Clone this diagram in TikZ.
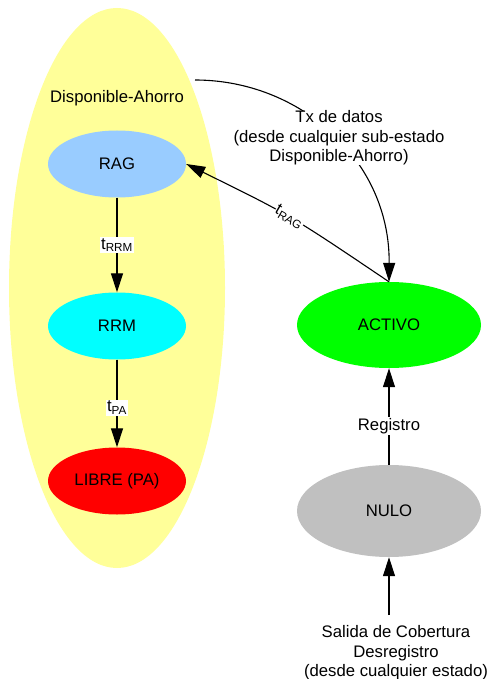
\documentclass[tikz,border=0pt]{standalone}
\usepackage{fontspec}
\setmainfont{Liberation Sans}
\usetikzlibrary{shapes.geometric,arrows.meta}
\definecolor{dispo}{HTML}{FFFF99}
\definecolor{ragblue}{HTML}{99CCFF}
\definecolor{rrmcyan}{HTML}{00FFFF}
\definecolor{librered}{HTML}{FF0000}
\definecolor{activogreen}{HTML}{00FF00}
\definecolor{nulogray}{HTML}{C0C0C0}
\begin{document}
\begin{tikzpicture}[x=1pt,y=-1pt,
  font=\fontsize{16.7}{19.5}\selectfont,
  state/.style={ellipse, inner sep=0pt},
  small/.style={minimum width=138pt, minimum height=67pt},
  big/.style={minimum width=184pt},
  arr/.style={-{Triangle[length=19pt,width=12pt]}, line width=1.1pt},
  lbl/.style={fill=white, inner sep=1pt}]
\useasboundingbox (0,0) rectangle (491,679);
% superstate
\node[state, fill=dispo, minimum width=216pt, minimum height=560pt] (disp) at (117,288) {};
\node (displbl) at (117,98) {Disponible-Ahorro};
% states
\node[state, small, fill=ragblue] (rag) at (117,164) {RAG};
\node[state, small, fill=rrmcyan] (rrm) at (117,326) {RRM};
\node[state, small, fill=librered] (libre) at (117,481) {LIBRE (PA)};
\node[state, big, minimum height=86pt, fill=activogreen] (activo) at (389,325) {ACTIVO};
\node[state, big, minimum height=92pt, fill=nulogray] (nulo) at (389,511) {NULO};
\node[align=center] (salida) at (396,653) {Salida de Cobertura\\Desregistro\\(desde cualquier estado)};
\coordinate (txstart) at (195,80);
\coordinate (salidatop) at (389,615);
% transitions
\draw[arr] (rag) -- node[lbl]{t\textsubscript{RRM}} (rrm);
\draw[arr] (rrm) -- node[lbl, pos=0.55]{t\textsubscript{PA}} (libre);
\draw[arr] (nulo) -- node[lbl, pos=0.4]{Registro} (activo);
\draw[arr] (salidatop) -- (nulo);
\draw[arr] (activo.north) .. controls (290,215) .. node[lbl, sloped, inner sep=0.5pt]{t\textsubscript{RAG}} (rag.east);
\draw[arr] (txstart) .. controls (300,80) and (390,160) .. (activo.north);
\node[align=center, fill=white, inner sep=0pt] (txlbl) at (339,138) {Tx de datos\\(desde cualquier sub-estado\\Disponible-Ahorro)};
\end{tikzpicture}
\end{document}
